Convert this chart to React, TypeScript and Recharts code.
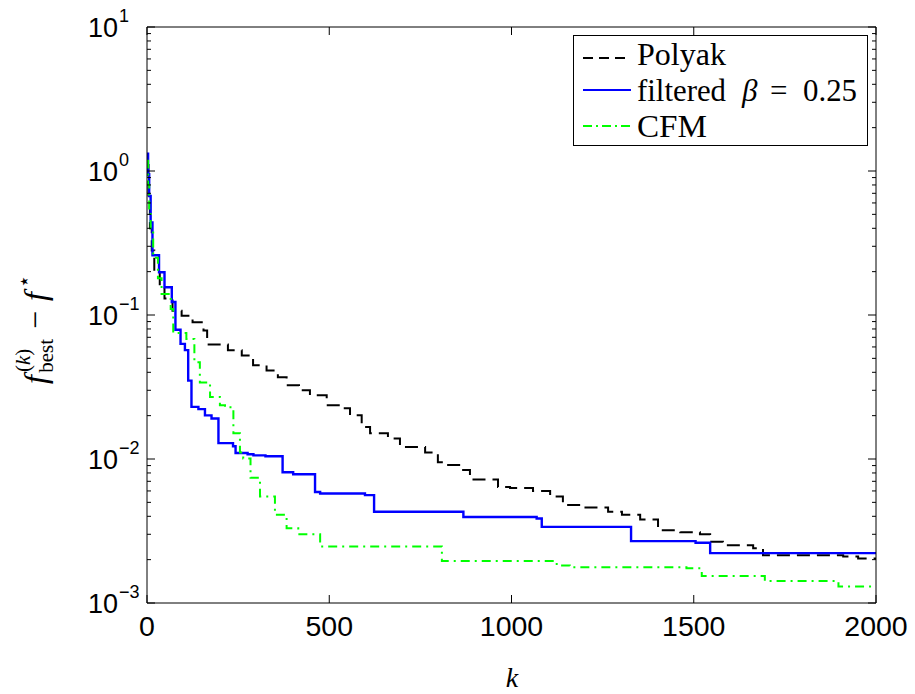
import React from 'react';
import { LineChart, Line, XAxis, YAxis } from 'recharts';

// ---- data ----
const xTicks = [0, 500, 1000, 1500, 2000];
const yTicks = [
  0.001, 0.002, 0.003, 0.004, 0.005, 0.006, 0.007, 0.008, 0.009,
  0.01, 0.02, 0.03, 0.04, 0.05, 0.06, 0.07, 0.08, 0.09,
  0.1, 0.2, 0.3, 0.4, 0.5, 0.6, 0.7, 0.8, 0.9,
  1, 2, 3, 4, 5, 6, 7, 8, 9, 10,
];

const polyakK = [0, 4, 8, 13, 20, 35, 48, 70, 95, 125, 155, 165, 222, 260, 291, 328, 359, 383, 417, 447, 493, 529, 557, 589, 612, 661, 694, 763, 798, 823, 863, 886, 963, 996, 1059, 1106, 1141, 1193, 1265, 1303, 1353, 1402, 1463, 1517, 1545, 1580, 1663, 1690, 1910, 1951, 2000];
const polyakF = [1.1, 0.6, 0.4, 0.28, 0.2, 0.16, 0.13, 0.107, 0.099, 0.089, 0.078, 0.0625, 0.0568, 0.0524, 0.0447, 0.0412, 0.037, 0.0325, 0.03, 0.0277, 0.0236, 0.0225, 0.0201, 0.0167, 0.0151, 0.0139, 0.0121, 0.0111, 0.0095, 0.0091, 0.0084, 0.0072, 0.0064, 0.0063, 0.006, 0.0055, 0.0048, 0.0046, 0.0043, 0.0041, 0.0038, 0.0032, 0.0031, 0.003, 0.00266, 0.00252, 0.0024, 0.00215, 0.0021, 0.00204, 0.00204];

const filteredK = [0, 3, 6, 10, 15, 33, 48, 68, 78, 92, 104, 113, 122, 141, 159, 177, 196, 236, 243, 276, 292, 325, 372, 401, 461, 475, 598, 623, 868, 1069, 1083, 1328, 1505, 1545, 2000];
const filteredF = [1.32, 0.95, 0.67, 0.44, 0.26, 0.198, 0.156, 0.123, 0.079, 0.063, 0.057, 0.035, 0.023, 0.0222, 0.0201, 0.0191, 0.0129, 0.01225, 0.011, 0.0108, 0.0106, 0.01045, 0.0081, 0.00783, 0.0059, 0.00576, 0.00561, 0.0043, 0.00396, 0.00386, 0.00338, 0.00269, 0.00262, 0.00222, 0.00222];

const cfmK = [0, 3, 6, 10, 17, 30, 40, 65, 72, 108, 130, 145, 173, 200, 214, 237, 255, 264, 284, 310, 351, 383, 415, 475, 809, 1124, 1160, 1480, 1522, 1695, 1897, 2000];
const cfmF = [1.18, 0.8, 0.55, 0.4, 0.25, 0.18, 0.14, 0.11, 0.075, 0.068, 0.047, 0.034, 0.027, 0.0236, 0.0229, 0.0151, 0.0111, 0.0101, 0.0074, 0.0055, 0.0041, 0.0033, 0.003, 0.00247, 0.00196, 0.00182, 0.00177, 0.00174, 0.00154, 0.00142, 0.0013, 0.0013];

const toRows = (ks: number[], fs: number[]) => ks.map((k, i) => ({ k, f: fs[i] }));
const polyakData = toRows(polyakK, polyakF);
const filteredData = toRows(filteredK, filteredF);
const cfmData = toRows(cfmK, cfmF);

const SANS = "'Liberation Sans', Arial, Helvetica, sans-serif";
const SERIF = "'Liberation Serif', 'Times New Roman', serif";

const isMajor = (v: number) => {
  const l = Math.log10(v);
  return Math.abs(l - Math.round(l)) < 1e-9;
};

const LeftTick = (props: any) => {
  const { x, y, payload } = props;
  const v = payload.value;
  if (!isMajor(v)) {
    return <line x1={x} x2={x + 4} y1={y} y2={y} stroke="#000" strokeWidth={1} />;
  }
  const e = Math.round(Math.log10(v));
  const es = e < 0 ? '\u2212' + String(-e) : String(e);
  return (
    <g>
      <line x1={x} x2={x + 8} y1={y} y2={y} stroke="#000" strokeWidth={1} />
      <text x={x - 29} y={y + 10} textAnchor="end" fontFamily={SANS} fontSize={27} fill="#000">10</text>
      <text x={x - 28} y={y - 5} textAnchor="start" fontFamily={SANS} fontSize={18} fill="#000">{es}</text>
    </g>
  );
};

const RightTick = (props: any) => {
  const { x, y, payload } = props;
  const len = isMajor(payload.value) ? 8 : 4;
  return <line x1={x} x2={x - len} y1={y} y2={y} stroke="#000" strokeWidth={1} />;
};

const BottomTick = (props: any) => {
  const { x, y, payload } = props;
  return (
    <g>
      <line x1={x} x2={x} y1={y} y2={y - 8} stroke="#000" strokeWidth={1} />
      <text x={x} y={y + 33} textAnchor="middle" fontFamily={SANS} fontSize={28.5} fill="#000">{payload.value}</text>
    </g>
  );
};

const TopTick = (props: any) => {
  const { x, y } = props;
  return <line x1={x} x2={x} y1={y} y2={y + 8} stroke="#000" strokeWidth={1} />;
};

const XLabel = () => (
  <text x={512} y={687} textAnchor="middle" fontFamily={SERIF} fontStyle="italic" fontSize={28} fill="#000">k</text>
);

const YLabel = () => (
  <text transform="translate(46,384) rotate(-90)" fontFamily={SERIF} fontSize={32} fill="#000">
    <tspan fontStyle="italic">f</tspan>
    <tspan fontSize={21} dy={-16} dx={3}>(</tspan>
    <tspan fontSize={21} fontStyle="italic">k</tspan>
    <tspan fontSize={21}>)</tspan>
    <tspan fontSize={21} dx={-24} dy={23}>best</tspan>
    <tspan dy={-7} dx={10}>{'\u2212'}</tspan>
    <tspan dx={10} fontStyle="italic">f</tspan>
    <tspan fontSize={21} dy={-15} dx={4}>{'\u22C6'}</tspan>
  </text>
);

const LegendBox = () => (
  <svg width={915} height={694} style={{ position: 'absolute', left: 0, top: 0, pointerEvents: 'none' }}>
    <rect x={573.5} y={35.5} width={294} height={110} fill="#fff" stroke="#000" strokeWidth={1} />
    <line x1={583} x2={631} y1={58} y2={58} stroke="#000" strokeWidth={2} strokeDasharray="10 6" />
    <text x={637} y={65} fontFamily={SERIF} fontSize={31} fill="#000" textLength={89} lengthAdjust="spacingAndGlyphs">Polyak</text>
    <line x1={583} x2={631} y1={90} y2={90} stroke="#0000ff" strokeWidth={2.2} />
    <text x={637} y={101} fontFamily={SERIF} fontSize={31} fill="#000" textLength={89} lengthAdjust="spacingAndGlyphs">filtered</text>
    <text x={742} y={101} fontFamily={SERIF} fontStyle="italic" fontSize={31} fill="#000">{'\u03B2'}</text>
    <text x={770} y={101} fontFamily={SERIF} fontSize={31} fill="#000">=</text>
    <text x={803} y={101} fontFamily={SERIF} fontSize={31} fill="#000" textLength={54} lengthAdjust="spacingAndGlyphs">0.25</text>
    <line x1={583} x2={631} y1={126} y2={126} stroke="#00ff00" strokeWidth={2} strokeDasharray="9 4 2 4" />
    <text x={637} y={137} fontFamily={SERIF} fontSize={31} fill="#000" textLength={70} lengthAdjust="spacingAndGlyphs">CFM</text>
  </svg>
);

export default function App() {
  return (
    <div style={{ position: 'absolute', left: 0, top: 0, width: 915, height: 694, background: '#fff' }}>
      <LineChart width={915} height={694} margin={{ top: 0, right: 0, bottom: 0, left: 0 }}>
        <XAxis
          xAxisId="b"
          dataKey="k"
          type="number"
          domain={[0, 2000]}
          ticks={xTicks}
          interval={0}
          orientation="bottom"
          height={91}
          tickSize={0}
          tickMargin={0}
          axisLine={{ stroke: '#000', strokeWidth: 1 }}
          tickLine={false}
          tick={<BottomTick />}
          allowDataOverflow
          label={<XLabel />}
        />
        <XAxis
          xAxisId="t"
          dataKey="k"
          type="number"
          domain={[0, 2000]}
          ticks={xTicks}
          interval={0}
          orientation="top"
          height={27}
          tickSize={0}
          tickMargin={0}
          axisLine={{ stroke: '#000', strokeWidth: 1 }}
          tickLine={false}
          tick={<TopTick />}
          allowDataOverflow
        />
        <YAxis
          yAxisId="l"
          dataKey="f"
          scale="log"
          type="number"
          domain={[0.001, 10]}
          ticks={yTicks}
          interval={0}
          orientation="left"
          width={147}
          tickSize={0}
          tickMargin={0}
          axisLine={{ stroke: '#000', strokeWidth: 1 }}
          tickLine={false}
          tick={<LeftTick />}
          allowDataOverflow
          label={<YLabel />}
        />
        <YAxis
          yAxisId="r"
          dataKey="f"
          scale="log"
          type="number"
          domain={[0.001, 10]}
          ticks={yTicks}
          interval={0}
          orientation="right"
          width={39}
          tickSize={0}
          tickMargin={0}
          axisLine={{ stroke: '#000', strokeWidth: 1 }}
          tickLine={false}
          tick={<RightTick />}
          allowDataOverflow
        />
        <Line xAxisId="b" yAxisId="l" data={polyakData} dataKey="f" type="stepAfter" stroke="#000" strokeWidth={2} strokeDasharray="13 7" dot={false} isAnimationActive={false} />
        <Line xAxisId="b" yAxisId="l" data={filteredData} dataKey="f" type="stepAfter" stroke="#0000ff" strokeWidth={2.4} dot={false} isAnimationActive={false} />
        <Line xAxisId="b" yAxisId="l" data={cfmData} dataKey="f" type="stepAfter" stroke="#00ff00" strokeWidth={2} strokeDasharray="9 5 2 5" dot={false} isAnimationActive={false} />
      </LineChart>
      <LegendBox />
    </div>
  );
}
